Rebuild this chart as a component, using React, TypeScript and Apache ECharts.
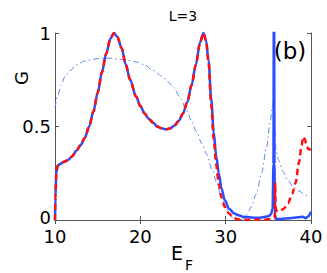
import React, { useEffect, useRef } from "react";
import * as echarts from "echarts";

const title = "L=3";
const panelLabel = "(b)";
const xTicks = [10, 20, 30, 40];
const yTicks = [0, 0.5, 1];

// solid blue curve
const blueX = [10, 10.05, 10.15, 10.3, 10.6, 11.0, 11.5, 12.0, 12.5, 13.0, 13.5, 14.0, 14.5, 15.0, 15.5, 16.0, 16.5, 16.9, 17.3, 17.8, 18.3, 18.8, 19.5, 20.0, 20.5, 21.0, 21.5, 22.0, 22.5, 23.0, 23.5, 24.0, 24.5, 25.0, 25.5, 26.0, 26.5, 27.0, 27.4, 27.7, 28.0, 28.3, 28.6, 28.9, 29.2, 29.5, 29.9, 30.4, 31.0, 31.5, 32.0, 33.0, 34.0, 35.0, 35.3, 35.5, 35.6, 35.66, 35.72, 35.78, 35.9, 36.5, 37.5, 38.5, 39.0, 39.4, 39.7, 40];
const blueY = [0, 0.12, 0.25, 0.29, 0.3, 0.31, 0.32, 0.34, 0.37, 0.4, 0.44, 0.5, 0.58, 0.68, 0.79, 0.89, 0.97, 1.0, 0.98, 0.92, 0.83, 0.75, 0.66, 0.61, 0.57, 0.54, 0.52, 0.5, 0.49, 0.485, 0.49, 0.505, 0.53, 0.57, 0.63, 0.72, 0.83, 0.95, 1.0, 0.96, 0.85, 0.65, 0.47, 0.34, 0.25, 0.17, 0.105, 0.06, 0.035, 0.025, 0.018, 0.013, 0.012, 0.02, 0.03, 0.06, 0.3, 1.6, 0.3, 0.03, 0.005, 0.005, 0.01, 0.015, 0.018, 0.01, 0.02, 0.045];

// dashed red curve
const redX = [10, 10.05, 10.15, 10.3, 10.6, 11.0, 11.5, 12.0, 12.5, 13.0, 13.5, 14.0, 14.5, 15.0, 15.5, 16.0, 16.5, 16.9, 17.3, 17.8, 18.3, 18.8, 19.5, 20.0, 20.5, 21.0, 21.5, 22.0, 22.5, 23.0, 23.5, 24.0, 24.5, 25.0, 25.5, 26.0, 26.5, 27.0, 27.4, 27.7, 28.0, 28.3, 28.6, 28.9, 29.2, 29.5, 29.9, 30.4, 30.9, 31.5, 32.5, 33.5, 34.5, 35.5, 35.75, 35.8, 35.85, 35.9, 36.3, 36.8, 37.3, 37.8, 38.2, 38.6, 38.9, 39.1, 39.3, 39.5, 39.7, 40];
const redY = [0, 0.12, 0.25, 0.29, 0.3, 0.31, 0.32, 0.34, 0.37, 0.4, 0.44, 0.5, 0.58, 0.68, 0.79, 0.89, 0.97, 1.0, 0.98, 0.92, 0.83, 0.75, 0.66, 0.61, 0.57, 0.54, 0.52, 0.5, 0.49, 0.485, 0.49, 0.505, 0.53, 0.57, 0.63, 0.72, 0.83, 0.95, 1.0, 0.96, 0.84, 0.62, 0.43, 0.29, 0.19, 0.12, 0.07, 0.035, 0.012, 0.003, 0.002, 0.002, 0.003, 0.005, 0.01, 0.2, 0.1, 0.05, 0.045, 0.06, 0.09, 0.14, 0.2, 0.31, 0.4, 0.445, 0.43, 0.39, 0.38, 0.375];

// thin dash-dot curve
const dotX = [10, 10.3, 10.7, 11.2, 11.8, 12.5, 13.5, 14.5, 15.5, 16.5, 17.5, 18.5, 19.5, 20.5, 21.5, 22.5, 23.2, 23.9, 24.6, 25.4, 26.0, 26.6, 27.2, 27.8, 28.4, 28.95, 29.5, 29.9, 30.3, 30.8, 31.5, 32.0, 32.5, 33.0, 33.6, 34.2, 34.8, 35.2, 35.5, 35.65, 35.9, 36.2, 36.7, 37.3, 37.9, 38.6, 39.3, 39.8];
const dotY = [0.6, 0.66, 0.72, 0.77, 0.8, 0.83, 0.85, 0.86, 0.865, 0.865, 0.86, 0.855, 0.845, 0.83, 0.8, 0.77, 0.74, 0.71, 0.66, 0.59, 0.53, 0.47, 0.41, 0.35, 0.27, 0.2, 0.12, 0.08, 0.04, 0.012, 0.0, 0.005, 0.03, 0.07, 0.14, 0.25, 0.39, 0.52, 0.61, 0.65, 0.37, 0.32, 0.26, 0.21, 0.18, 0.155, 0.135, 0.12];

const pairs = (xs: number[], ys: number[]) => xs.map((x, i) => [x, ys[i]]);

const FONT = "DejaVu Sans";

export default function App() {
  const ref = useRef<HTMLDivElement>(null);
  useEffect(() => {
    if (!ref.current) return;
    const chart = echarts.init(ref.current, undefined, { renderer: "svg" });
    const axisLine = { show: true, lineStyle: { color: "#555", width: 1 } };
    const tick = { show: true, inside: true, length: 4, lineStyle: { color: "#555" } };
    chart.setOption({
      animation: false,
      backgroundColor: "#fff",
      grid: { left: 55, right: 16, top: 33, bottom: 53, containLabel: false },
      xAxis: [
        {
          type: "value", min: xTicks[0], max: xTicks[xTicks.length - 1], interval: 10,
          position: "bottom", axisLine, axisTick: tick, splitLine: { show: false },
          axisLabel: { color: "#000", fontSize: 18, lineHeight: 14, fontFamily: FONT, margin: 9 },
        },
        {
          type: "value", min: xTicks[0], max: xTicks[xTicks.length - 1], interval: 10,
          position: "top", axisLine, axisTick: tick, splitLine: { show: false },
          axisLabel: { show: false },
        },
      ],
      yAxis: [
        {
          type: "value", min: yTicks[0], max: yTicks[yTicks.length - 1], interval: 0.5,
          position: "left", axisLine, axisTick: tick, splitLine: { show: false },
          axisLabel: {
            color: "#000", fontSize: 18, lineHeight: 14, fontFamily: FONT, margin: 4,
            formatter: (v: number) => (v === 0 ? "{z|0}" : String(v)),
            rich: { z: { fontSize: 18, lineHeight: 14, fontFamily: FONT, color: "#000", padding: [0, 0, 5, 0] } },
          },
        },
        {
          type: "value", min: yTicks[0], max: yTicks[yTicks.length - 1], interval: 0.5,
          position: "right", axisLine, axisTick: tick, splitLine: { show: false },
          axisLabel: { show: false },
        },
      ],
      series: [
        {
          type: "line", data: pairs(dotX, dotY), showSymbol: false, smooth: 0.3, smoothMonotone: "x",
          lineStyle: { color: "#5f86e6", width: 1, type: [6, 3, 1.5, 3] }, clip: true,
        },
        {
          type: "line", data: pairs(blueX, blueY), showSymbol: false, smooth: 0.3, smoothMonotone: "x",
          lineStyle: { color: "#2a4dff", width: 2.5 }, clip: true,
        },
        {
          type: "line", data: pairs(redX, redY), showSymbol: false, smooth: 0.3, smoothMonotone: "x",
          lineStyle: { color: "#ff1010", width: 2.5, type: [6, 4] }, clip: true,
        },
      ],
      graphic: [
        { type: "text", x: 183, y: 16, style: { text: title, fontSize: 14, fontFamily: FONT, fill: "#000", align: "center", verticalAlign: "middle" } },
        { type: "text", x: 290, y: 51, style: { text: panelLabel, fontSize: 23, fontFamily: FONT, fill: "#000", align: "center", verticalAlign: "middle" } },
        { type: "text", x: 21, y: 78, rotation: Math.PI / 2, style: { text: "G", fontSize: 18, fontFamily: FONT, fill: "#000", align: "center", verticalAlign: "middle" } },
        { type: "text", x: 177, y: 253, style: { text: "E", fontSize: 19, fontFamily: FONT, fill: "#000", align: "center", verticalAlign: "middle" } },
        { type: "text", x: 189, y: 265, style: { text: "F", fontSize: 14, fontFamily: FONT, fill: "#000", align: "center", verticalAlign: "middle" } },
      ],
    });
    return () => chart.dispose();
  }, []);
  return <div ref={ref} style={{ width: 327, height: 273, position: "absolute", left: 0, top: 0 }} />;
}
